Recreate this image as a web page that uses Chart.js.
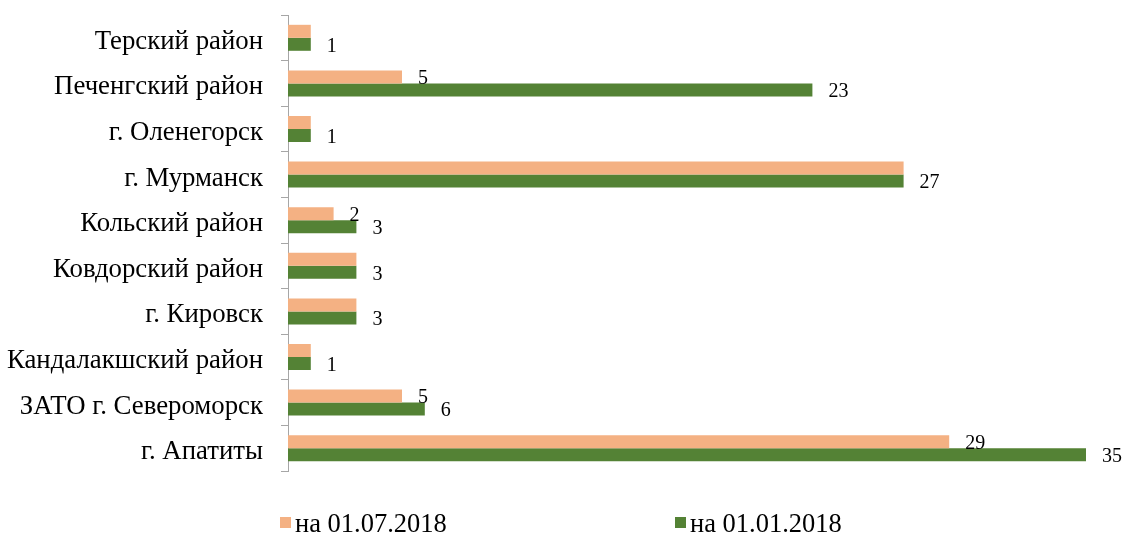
<!DOCTYPE html>
<html>
<head>
<meta charset="utf-8">
<script src="https://cdn.jsdelivr.net/npm/chart.js@4/dist/chart.umd.min.js"></script>
<style>
  html, body { margin: 0; padding: 0; background: #fff; }
  #wrap { position: relative; width: 1126px; height: 535px; }
</style>
</head>
<body>
<div id="wrap"><canvas id="chart" width="1126" height="535"></canvas></div>
<script>
// данные диаграммы
const categories = [
  'Терский район',
  'Печенгский район',
  'г. Оленегорск',
  'г. Мурманск',
  'Кольский район',
  'Ковдорский район',
  'г. Кировск',
  'Кандалакшский район',
  'ЗАТО г. Североморск',
  'г. Апатиты'
];
const seriesNames = ['на 01.07.2018', 'на 01.01.2018'];
const july2018 = [1, 5, 1, 27, 2, 3, 3, 1, 5, 29];
const jan2018 = [1, 23, 1, 27, 3, 3, 3, 1, 6, 35];
const axisMax = 35;

const FONT = '"Liberation Serif", "Times New Roman", serif';
const colors = ['#F4B183', '#548235'];

// подписи значений справа от полос
const valueLabels = {
  id: 'valueLabels',
  afterDatasetsDraw(chart) {
    const ctx = chart.ctx;
    ctx.save();
    ctx.font = '20px ' + FONT;
    ctx.fillStyle = '#000';
    ctx.textAlign = 'left';
    ctx.textBaseline = 'middle';
    chart.data.datasets.forEach((ds, di) => {
      const meta = chart.getDatasetMeta(di);
      meta.data.forEach((bar, i) => {
        // у оранжевой серии подпись скрыта, если совпадает с зелёной
        if (di === 0 && july2018[i] === jan2018[i]) return;
        ctx.fillText(String(ds.data[i]), bar.x + 16, bar.y + 2);
      });
    });
    ctx.restore();
  }
};

// легенда внизу
const bottomLegend = {
  id: 'bottomLegend',
  afterDraw(chart) {
    const ctx = chart.ctx;
    const xs = [280, 675];
    ctx.save();
    ctx.font = '26.5px ' + FONT;
    ctx.textBaseline = 'alphabetic';
    ctx.textAlign = 'left';
    chart.data.datasets.forEach((ds, di) => {
      ctx.fillStyle = ds.backgroundColor;
      ctx.fillRect(xs[di], 517, 11, 11);
      ctx.fillStyle = '#000';
      ctx.fillText(ds.label, xs[di] + 15, 532);
    });
    ctx.restore();
  }
};

new Chart(document.getElementById('chart'), {
  type: 'bar',
  data: {
    labels: categories,
    datasets: [
      { label: seriesNames[0], data: july2018, backgroundColor: colors[0] },
      { label: seriesNames[1], data: jan2018, backgroundColor: colors[1] }
    ]
  },
  options: {
    indexAxis: 'y',
    responsive: false,
    animation: false,
    layout: { padding: { top: 15, right: 40, bottom: 64, left: 0 } },
    datasets: {
      bar: { categoryPercentage: 0.57, barPercentage: 1.0, borderWidth: 0 }
    },
    scales: {
      x: { display: false, min: 0, max: axisMax },
      y: {
        afterFit(scale) {
          scale.width = 288;
          scale.paddingTop = 0;
          scale.paddingBottom = 0;
        },
        border: { display: true, color: '#a6a6a6', width: 1 },
        grid: {
          offset: true,
          drawOnChartArea: false,
          drawTicks: true,
          tickLength: 7,
          color: '#a6a6a6'
        },
        ticks: {
          color: '#000',
          padding: 18,
          labelOffset: 4,
          font: { family: FONT, size: 26.8 }
        }
      }
    },
    plugins: {
      legend: { display: false },
      tooltip: { enabled: false }
    }
  },
  plugins: [valueLabels, bottomLegend]
});
</script>
</body>
</html>
